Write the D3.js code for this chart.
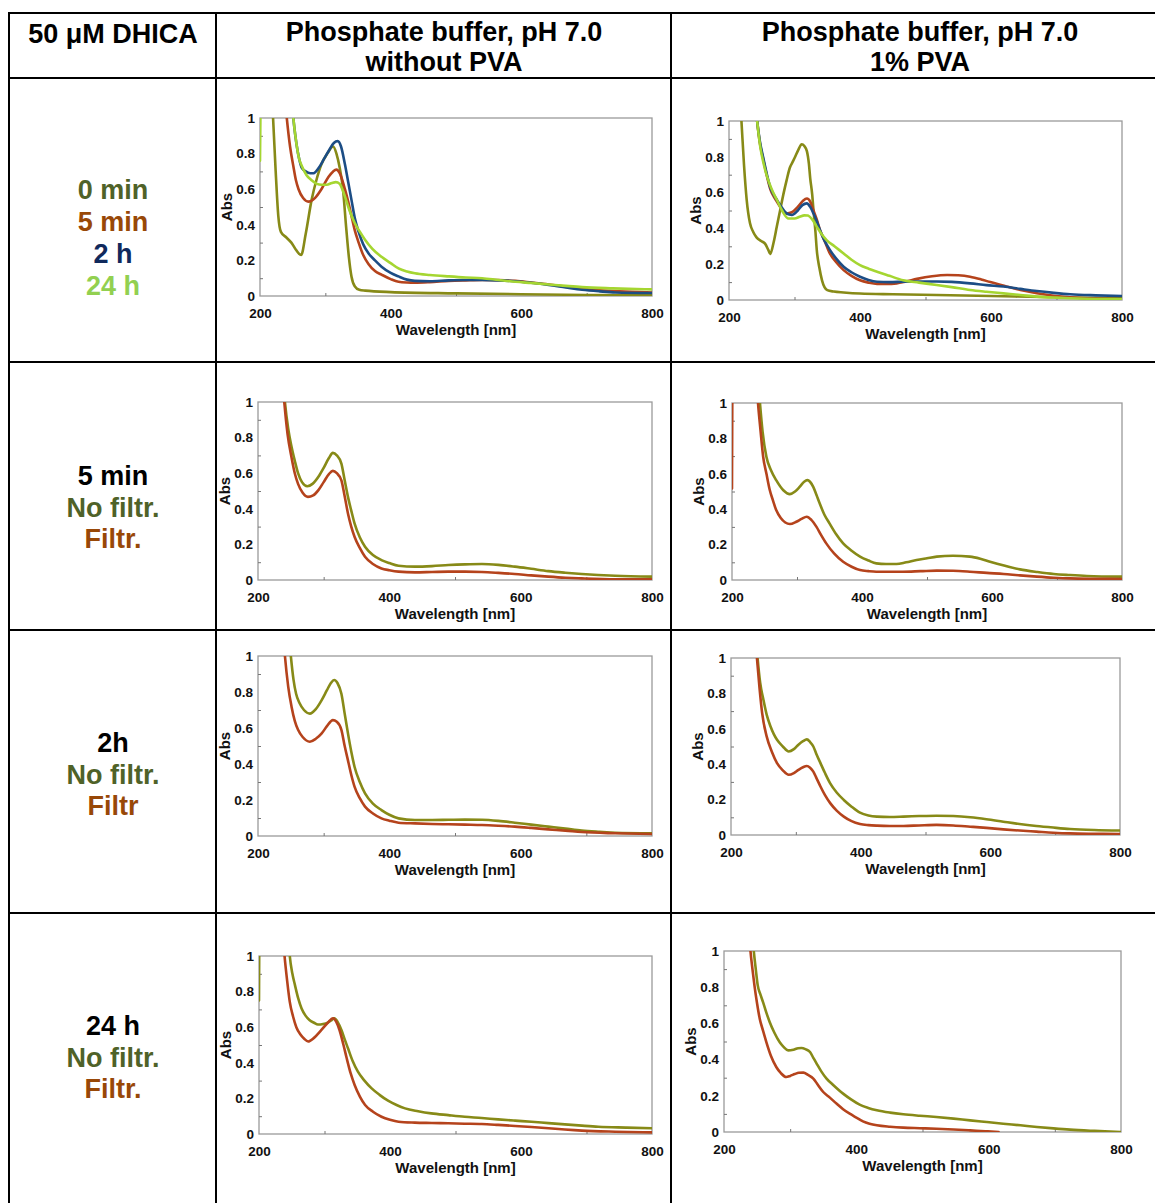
<!DOCTYPE html>
<html>
<head>
<meta charset="utf-8">
<script src="https://cdn.jsdelivr.net/npm/d3@7"></script>
<style>
  html, body { margin: 0; padding: 0; background: #fff; }
  svg { display: block; }
  text { font-family: "Liberation Sans", Arial, Helvetica, sans-serif; font-weight: bold; }
</style>
</head>
<body>
<svg id="fig" width="1155" height="1203"></svg>
<script>
// ---------- Text content ----------
const cornerTitle = "50 \u03BCM DHICA";
const columnTitles = [
  ["Phosphate buffer, pH 7.0", "without PVA"],
  ["Phosphate buffer, pH 7.0", "1% PVA"]
];
const timeLabels = ["0 min", "5 min", "2 h", "24 h"];
const rowHeadings = ["5 min", "2h", "24 h"];
const filtrLabels = [["No filtr.", "Filtr."], ["No filtr.", "Filtr"], ["No filtr.", "Filtr."]];

// ---------- Axes ----------
const wavelengthDomain = [200, 800];
const absDomain = [0, 1];
const wavelengthTicks = [200, 400, 600, 800];
const wavelengthMinorTicks = [300, 500, 700];
const absTicks = [0, 0.2, 0.4, 0.6, 0.8, 1];
const absMinorTicks = [0.1, 0.3, 0.5, 0.7, 0.9];

// ---------- Spectra: [wavelength nm, absorbance] ----------
// Time course, phosphate buffer without PVA
const noPVA_0min = [[215,1.3],[220,1.0],[224,0.7],[228,0.45],[232,0.36],[240,0.33],[248,0.3],[255,0.26],[263,0.23],[270,0.35],[279,0.54],[287,0.66],[294,0.74],[303,0.8],[312,0.84],[317,0.8],[322,0.72],[327,0.6],[332,0.38],[336,0.22],[340,0.11],[345,0.055],[352,0.035],[361,0.03],[400,0.022],[500,0.015],[600,0.01],[700,0.006],[800,0.004]];
const noPVA_5min = [[234,1.3],[241,1.0],[246,0.84],[251,0.73],[255,0.65],[259,0.6],[266,0.55],[274,0.53],[284,0.55],[294,0.6],[305,0.67],[312,0.7],[317,0.71],[322,0.69],[330,0.6],[335,0.53],[340,0.45],[345,0.37],[351,0.3],[358,0.23],[366,0.18],[376,0.14],[386,0.12],[400,0.095],[412,0.08],[425,0.076],[437,0.075],[460,0.078],[489,0.085],[515,0.088],[540,0.09],[565,0.089],[591,0.085],[615,0.076],[642,0.065],[668,0.052],[693,0.04],[720,0.032],[750,0.026],[800,0.02]];
const noPVA_2h = [[244,1.3],[251,1.0],[256,0.85],[260,0.77],[264,0.72],[270,0.7],[277,0.69],[282,0.69],[290,0.72],[298,0.77],[306,0.82],[313,0.86],[319,0.87],[324,0.84],[330,0.74],[335,0.64],[340,0.54],[345,0.44],[351,0.36],[358,0.29],[366,0.24],[376,0.2],[386,0.165],[400,0.13],[412,0.11],[425,0.092],[437,0.085],[460,0.083],[489,0.088],[515,0.09],[540,0.09],[565,0.088],[591,0.083],[615,0.074],[642,0.062],[668,0.048],[693,0.035],[720,0.026],[744,0.02],[800,0.017]];
const noPVA_24h = [[200,0.76],[202,1.3],[245,1.3],[251,1.0],[256,0.85],[260,0.77],[264,0.73],[271,0.68],[279,0.65],[287,0.63],[294,0.625],[302,0.625],[310,0.635],[316,0.64],[322,0.63],[326,0.6],[330,0.56],[337,0.48],[345,0.41],[353,0.36],[361,0.315],[372,0.265],[386,0.22],[400,0.185],[412,0.155],[425,0.138],[437,0.128],[460,0.118],[489,0.11],[515,0.104],[540,0.1],[565,0.09],[591,0.08],[615,0.073],[642,0.065],[668,0.057],[693,0.05],[740,0.043],[800,0.037]];

// Time course, phosphate buffer with 1% PVA
const pva_0min = [[214,1.3],[219,1.0],[223,0.75],[227,0.56],[232,0.43],[237,0.38],[242,0.35],[249,0.33],[255,0.315],[260,0.28],[263,0.257],[268,0.32],[273,0.41],[278,0.5],[283,0.59],[288,0.67],[293,0.74],[297,0.77],[301,0.8],[306,0.84],[311,0.87],[315,0.86],[319,0.83],[322,0.76],[324,0.68],[327,0.59],[329,0.5],[332,0.38],[334,0.28],[338,0.18],[342,0.11],[346,0.07],[350,0.055],[360,0.047],[375,0.042],[400,0.036],[450,0.032],[517,0.028],[600,0.022],[700,0.015],[800,0.01]];
const pva_5min = [[236,1.3],[243,1.0],[247,0.88],[252,0.79],[258,0.69],[263,0.62],[268,0.58],[273,0.55],[280,0.51],[288,0.483],[296,0.49],[305,0.52],[313,0.555],[319,0.567],[324,0.55],[329,0.5],[334,0.45],[339,0.39],[346,0.33],[354,0.26],[364,0.21],[375,0.167],[387,0.135],[400,0.11],[413,0.097],[426,0.09],[440,0.09],[456,0.093],[470,0.103],[487,0.118],[510,0.133],[533,0.14],[550,0.138],[568,0.13],[585,0.115],[599,0.1],[620,0.08],[645,0.056],[670,0.038],[696,0.024],[720,0.015],[747,0.009],[800,0.004]];
const pva_2h = [[236,1.3],[243,1.0],[247,0.89],[252,0.8],[258,0.7],[263,0.63],[268,0.59],[273,0.56],[280,0.52],[286,0.49],[292,0.477],[296,0.475],[305,0.5],[312,0.53],[319,0.54],[324,0.52],[329,0.483],[334,0.44],[339,0.39],[346,0.33],[354,0.28],[364,0.23],[375,0.186],[387,0.155],[400,0.13],[413,0.112],[426,0.102],[445,0.1],[466,0.102],[490,0.103],[517,0.103],[540,0.101],[568,0.093],[593,0.083],[619,0.075],[645,0.062],[670,0.05],[696,0.04],[721,0.032],[760,0.026],[800,0.022]];
const pva_24h = [[236,1.3],[243,1.0],[248,0.85],[253,0.76],[258,0.69],[265,0.62],[273,0.56],[281,0.5],[291,0.455],[300,0.455],[308,0.465],[315,0.473],[320,0.472],[327,0.45],[334,0.41],[341,0.37],[349,0.335],[361,0.3],[375,0.26],[387,0.225],[400,0.195],[413,0.175],[426,0.158],[445,0.135],[466,0.11],[490,0.097],[517,0.084],[540,0.072],[568,0.056],[593,0.046],[619,0.037],[645,0.028],[670,0.019],[700,0.013],[721,0.01],[760,0.006],[800,0.004]];

// Filtration, 5 min
const noPVA_5min_noFiltr = [[235,1.3],[241,1.0],[246,0.85],[251,0.75],[256,0.67],[261,0.6],[267,0.55],[275,0.527],[283,0.54],[292,0.58],[300,0.63],[308,0.685],[314,0.714],[320,0.7],[327,0.654],[332,0.56],[337,0.467],[342,0.39],[347,0.318],[355,0.24],[363,0.187],[375,0.14],[388,0.112],[400,0.095],[414,0.08],[439,0.075],[465,0.078],[490,0.084],[515,0.088],[541,0.09],[566,0.085],[591,0.075],[616,0.063],[642,0.05],[668,0.041],[693,0.034],[744,0.024],[800,0.019]];
const noPVA_5min_filtr = [[234,1.3],[240,1.0],[245,0.82],[251,0.69],[256,0.6],[261,0.54],[268,0.49],[276,0.467],[284,0.475],[292,0.505],[300,0.55],[308,0.595],[314,0.613],[320,0.6],[327,0.56],[332,0.47],[337,0.374],[342,0.3],[347,0.243],[355,0.18],[363,0.13],[375,0.09],[388,0.065],[400,0.055],[414,0.047],[439,0.043],[465,0.045],[490,0.047],[515,0.047],[541,0.045],[566,0.04],[591,0.034],[616,0.026],[642,0.019],[668,0.013],[693,0.009],[744,0.004],[800,0.004]];
const pva_5min_noFiltr = [[237,1.3],[243,1.0],[247,0.84],[253,0.695],[260,0.62],[268,0.564],[279,0.507],[289,0.485],[297,0.5],[304,0.526],[311,0.555],[316,0.564],[320,0.555],[325,0.526],[330,0.48],[335,0.432],[342,0.37],[350,0.32],[360,0.26],[371,0.207],[384,0.165],[397,0.132],[410,0.11],[422,0.094],[437,0.09],[453,0.09],[468,0.1],[484,0.113],[500,0.123],[515,0.132],[540,0.137],[566,0.132],[582,0.12],[597,0.103],[620,0.08],[643,0.06],[670,0.045],[695,0.034],[720,0.028],[746,0.023],[800,0.019]];
const pva_5min_filtr = [[200,0.517],[201,1.3],[235,1.3],[240,1.0],[244,0.84],[248,0.695],[253,0.6],[258,0.51],[263,0.45],[268,0.395],[275,0.35],[282,0.325],[289,0.316],[299,0.329],[307,0.345],[315,0.357],[322,0.34],[330,0.3],[337,0.255],[345,0.207],[357,0.15],[371,0.103],[384,0.075],[397,0.056],[410,0.05],[422,0.047],[463,0.047],[490,0.05],[515,0.053],[540,0.052],[566,0.047],[592,0.04],[618,0.034],[643,0.026],[669,0.019],[695,0.013],[720,0.009],[760,0.007],[800,0.006]];

// Filtration, 2 h
const noPVA_2h_noFiltr = [[243,1.3],[250,1.0],[254,0.87],[258,0.79],[263,0.74],[270,0.7],[279,0.68],[288,0.705],[297,0.755],[305,0.81],[311,0.85],[316,0.867],[321,0.85],[327,0.79],[332,0.68],[337,0.57],[342,0.47],[347,0.385],[355,0.3],[363,0.237],[375,0.18],[388,0.144],[400,0.118],[414,0.098],[439,0.089],[465,0.089],[490,0.09],[515,0.091],[541,0.09],[566,0.084],[591,0.074],[616,0.063],[642,0.052],[668,0.041],[693,0.03],[720,0.023],[744,0.018],[800,0.015]];
const noPVA_2h_filtr = [[235,1.3],[241,1.0],[246,0.83],[251,0.72],[256,0.64],[261,0.59],[268,0.55],[279,0.524],[288,0.54],[297,0.57],[305,0.61],[314,0.644],[320,0.635],[327,0.59],[332,0.5],[337,0.42],[342,0.34],[347,0.274],[355,0.21],[363,0.163],[375,0.125],[388,0.098],[400,0.085],[414,0.074],[439,0.07],[465,0.067],[490,0.065],[515,0.063],[541,0.061],[566,0.057],[591,0.052],[616,0.045],[642,0.037],[668,0.03],[693,0.022],[744,0.015],[800,0.011]];
const pva_2h_noFiltr = [[235,1.3],[241,1.0],[245,0.86],[250,0.764],[255,0.68],[261,0.613],[266,0.57],[271,0.538],[280,0.5],[289,0.472],[297,0.485],[304,0.51],[311,0.53],[317,0.54],[322,0.525],[327,0.5],[332,0.455],[338,0.406],[345,0.35],[353,0.292],[363,0.24],[374,0.198],[386,0.16],[399,0.126],[412,0.11],[425,0.104],[445,0.102],[466,0.104],[490,0.107],[517,0.109],[543,0.107],[569,0.1],[594,0.089],[620,0.075],[645,0.062],[671,0.051],[697,0.042],[723,0.034],[760,0.028],[800,0.025]];
const pva_2h_filtr = [[234,1.3],[240,1.0],[244,0.83],[248,0.69],[255,0.557],[263,0.47],[271,0.406],[280,0.365],[289,0.34],[297,0.35],[304,0.368],[311,0.383],[317,0.39],[322,0.38],[327,0.358],[332,0.32],[338,0.274],[345,0.225],[353,0.18],[363,0.138],[374,0.104],[386,0.078],[399,0.062],[412,0.056],[425,0.053],[445,0.051],[466,0.051],[490,0.054],[517,0.057],[543,0.054],[569,0.047],[594,0.04],[620,0.032],[645,0.025],[671,0.019],[697,0.013],[723,0.009],[760,0.007],[800,0.006]];

// Filtration, 24 h
const noPVA_24h_noFiltr = [[200,0.75],[201,1.3],[242,1.3],[247,1.0],[251,0.9],[255,0.835],[260,0.76],[265,0.705],[271,0.665],[277,0.64],[284,0.625],[290,0.615],[298,0.618],[305,0.626],[311,0.64],[315,0.65],[320,0.63],[326,0.583],[331,0.53],[336,0.48],[343,0.41],[351,0.35],[361,0.3],[372,0.256],[384,0.22],[397,0.187],[410,0.163],[423,0.144],[443,0.128],[463,0.116],[489,0.106],[514,0.097],[540,0.09],[565,0.082],[591,0.075],[616,0.069],[642,0.061],[667,0.054],[693,0.047],[718,0.041],[760,0.036],[800,0.032]];
const noPVA_24h_filtr = [[233,1.3],[239,1.0],[243,0.86],[247,0.742],[252,0.66],[257,0.6],[263,0.56],[269,0.535],[275,0.52],[284,0.54],[295,0.583],[305,0.625],[313,0.65],[318,0.63],[323,0.583],[329,0.5],[334,0.424],[340,0.34],[346,0.275],[354,0.21],[362,0.163],[374,0.125],[387,0.097],[400,0.08],[413,0.069],[438,0.064],[464,0.062],[489,0.06],[514,0.058],[540,0.056],[565,0.051],[591,0.045],[616,0.039],[642,0.032],[667,0.025],[693,0.019],[744,0.013],[800,0.009]];
const pva_24h_noFiltr = [[239,1.3],[245,1.0],[248,0.9],[251,0.81],[255,0.76],[259,0.718],[264,0.66],[269,0.608],[276,0.55],[284,0.497],[290,0.47],[297,0.451],[305,0.455],[312,0.463],[317,0.464],[323,0.458],[330,0.442],[335,0.41],[340,0.378],[347,0.335],[355,0.295],[365,0.26],[380,0.212],[392,0.18],[405,0.151],[418,0.133],[431,0.12],[451,0.107],[471,0.098],[496,0.09],[521,0.083],[547,0.074],[572,0.064],[597,0.055],[622,0.046],[648,0.037],[673,0.028],[698,0.02],[723,0.013],[760,0.006],[799,0.0]];
const pva_24h_filtr = [[235,1.3],[240,1.0],[243,0.9],[246,0.81],[250,0.71],[254,0.626],[259,0.56],[264,0.497],[271,0.42],[279,0.359],[286,0.325],[294,0.304],[300,0.31],[307,0.32],[313,0.327],[320,0.328],[327,0.315],[335,0.295],[342,0.26],[350,0.221],[360,0.19],[370,0.157],[380,0.126],[390,0.101],[400,0.08],[410,0.059],[420,0.046],[431,0.037],[451,0.029],[471,0.024],[496,0.021],[521,0.018],[547,0.014],[572,0.009],[595,0.004],[615,0.0]];

// ---------- Styling ----------
const lineColors = { olive: "#878a17", red: "#b5431c", blue: "#1c4d85", green: "#a5d631" };
const textColors = { olive: "#4f6228", brown: "#984807", navy: "#10295c", green: "#92d050", black: "#000" };

const svg = d3.select("#fig");
const W = 1155, H = 1203;

// ---------- Table grid ----------
const grid = svg.append("g").attr("stroke", "#000").attr("stroke-width", 2);
[13, 78, 362, 630, 913].forEach(yy =>
  grid.append("line").attr("x1", 9).attr("x2", W).attr("y1", yy).attr("y2", yy));
[9, 216, 671].forEach(xx =>
  grid.append("line").attr("x1", xx).attr("x2", xx).attr("y1", 12).attr("y2", H));

// ---------- Header ----------
const headFont = 27;
svg.append("text").attr("x", 113).attr("y", 43).attr("text-anchor", "middle")
  .attr("font-size", headFont).text(cornerTitle);
const colCenters = [444, 920];
columnTitles.forEach((lines, i) => {
  lines.forEach((t, j) => {
    svg.append("text").attr("x", colCenters[i]).attr("y", 41 + j * 30)
      .attr("text-anchor", "middle").attr("font-size", headFont).text(t);
  });
});

// ---------- Row labels ----------
const labelX = 113;
const timeColors = [textColors.olive, textColors.brown, textColors.navy, textColors.green];
timeLabels.forEach((t, i) => {
  svg.append("text").attr("x", labelX).attr("y", 199 + i * 32).attr("text-anchor", "middle")
    .attr("font-size", headFont).attr("fill", timeColors[i]).text(t);
});
const rowBaselines = [485, 752, 1035];
rowHeadings.forEach((h, r) => {
  const lines = [[h, textColors.black], [filtrLabels[r][0], textColors.olive], [filtrLabels[r][1], textColors.brown]];
  lines.forEach(([t, c], j) => {
    svg.append("text").attr("x", labelX).attr("y", rowBaselines[r] + j * 31.5)
      .attr("text-anchor", "middle").attr("font-size", headFont).attr("fill", c).text(t);
  });
});

// ---------- Panels ----------
const panels = [
  { box: [260, 118, 652, 296], series: [[noPVA_0min, "olive"], [noPVA_5min, "red"], [noPVA_2h, "blue"], [noPVA_24h, "green"]] },
  { box: [729, 121, 1122, 300], series: [[pva_0min, "olive"], [pva_5min, "red"], [pva_2h, "blue"], [pva_24h, "green"]] },
  { box: [258, 402, 652, 580], series: [[noPVA_5min_noFiltr, "olive"], [noPVA_5min_filtr, "red"]] },
  { box: [732, 403, 1122, 580], series: [[pva_5min_noFiltr, "olive"], [pva_5min_filtr, "red"]] },
  { box: [258, 656, 652, 836], series: [[noPVA_2h_noFiltr, "olive"], [noPVA_2h_filtr, "red"]] },
  { box: [731, 658, 1120, 835], series: [[pva_2h_noFiltr, "olive"], [pva_2h_filtr, "red"]] },
  { box: [259, 956, 652, 1134], series: [[noPVA_24h_noFiltr, "olive"], [noPVA_24h_filtr, "red"]] },
  { box: [724, 951, 1121, 1132], series: [[pva_24h_noFiltr, "olive"], [pva_24h_filtr, "red"]] }
];

const frameColor = "#9a9a9a";

panels.forEach((p, i) => {
  const [L, T, R, B] = p.box;
  const x = d3.scaleLinear().domain(wavelengthDomain).range([L, R]);
  const y = d3.scaleLinear().domain(absDomain).range([B, T]);
  const g = svg.append("g");

  const clipId = "clip" + i;
  svg.append("clipPath").attr("id", clipId)
    .append("rect").attr("x", L).attr("y", T).attr("width", R - L).attr("height", B - T);

  // plot frame
  g.append("rect").attr("x", L).attr("y", T).attr("width", R - L).attr("height", B - T)
    .attr("fill", "none").attr("stroke", frameColor).attr("stroke-width", 1.3);

  // labelled axes
  const yAxis = g.append("g").attr("transform", `translate(${L},0)`)
    .call(d3.axisLeft(y).tickValues(absTicks).tickSize(0).tickPadding(5).tickFormat(d => String(d)));
  const xAxis = g.append("g").attr("transform", `translate(0,${B})`)
    .call(d3.axisBottom(x).tickValues(wavelengthTicks).tickSize(0).tickPadding(12).tickFormat(d => String(d)));
  [yAxis, xAxis].forEach(a => {
    a.select(".domain").remove();
    a.selectAll("text").attr("font-size", 13.5).attr("font-family", null).attr("fill", "#111");
  });

  // minor inside ticks
  const yMinor = g.append("g").attr("transform", `translate(${L},0)`)
    .call(d3.axisLeft(y).tickValues(absMinorTicks).tickSize(-3).tickFormat(""));
  const xMinor = g.append("g").attr("transform", `translate(0,${B})`)
    .call(d3.axisBottom(x).tickValues(wavelengthMinorTicks).tickSize(-3).tickFormat(""));
  [yMinor, xMinor].forEach(a => {
    a.select(".domain").remove();
    a.selectAll("line").attr("stroke", "#777").attr("stroke-width", 1);
  });

  // axis titles
  g.append("text").attr("x", (L + R) / 2).attr("y", B + 39).attr("text-anchor", "middle")
    .attr("font-size", 15).attr("fill", "#111").text("Wavelength [nm]");
  g.append("text").attr("transform", `translate(${L - 28},${(T + B) / 2}) rotate(-90)`)
    .attr("text-anchor", "middle").attr("font-size", 15).attr("fill", "#111").text("Abs");

  // spectra
  const line = d3.line().x(d => x(d[0])).y(d => y(d[1])).curve(d3.curveMonotoneX);
  const curves = g.append("g").attr("clip-path", `url(#${clipId})`);
  p.series.forEach(([data, key]) => {
    curves.append("path").datum(data).attr("d", line)
      .attr("fill", "none").attr("stroke", lineColors[key])
      .attr("stroke-width", 2.6).attr("stroke-linejoin", "round").attr("stroke-linecap", "round");
  });
});
</script>
</body>
</html>
